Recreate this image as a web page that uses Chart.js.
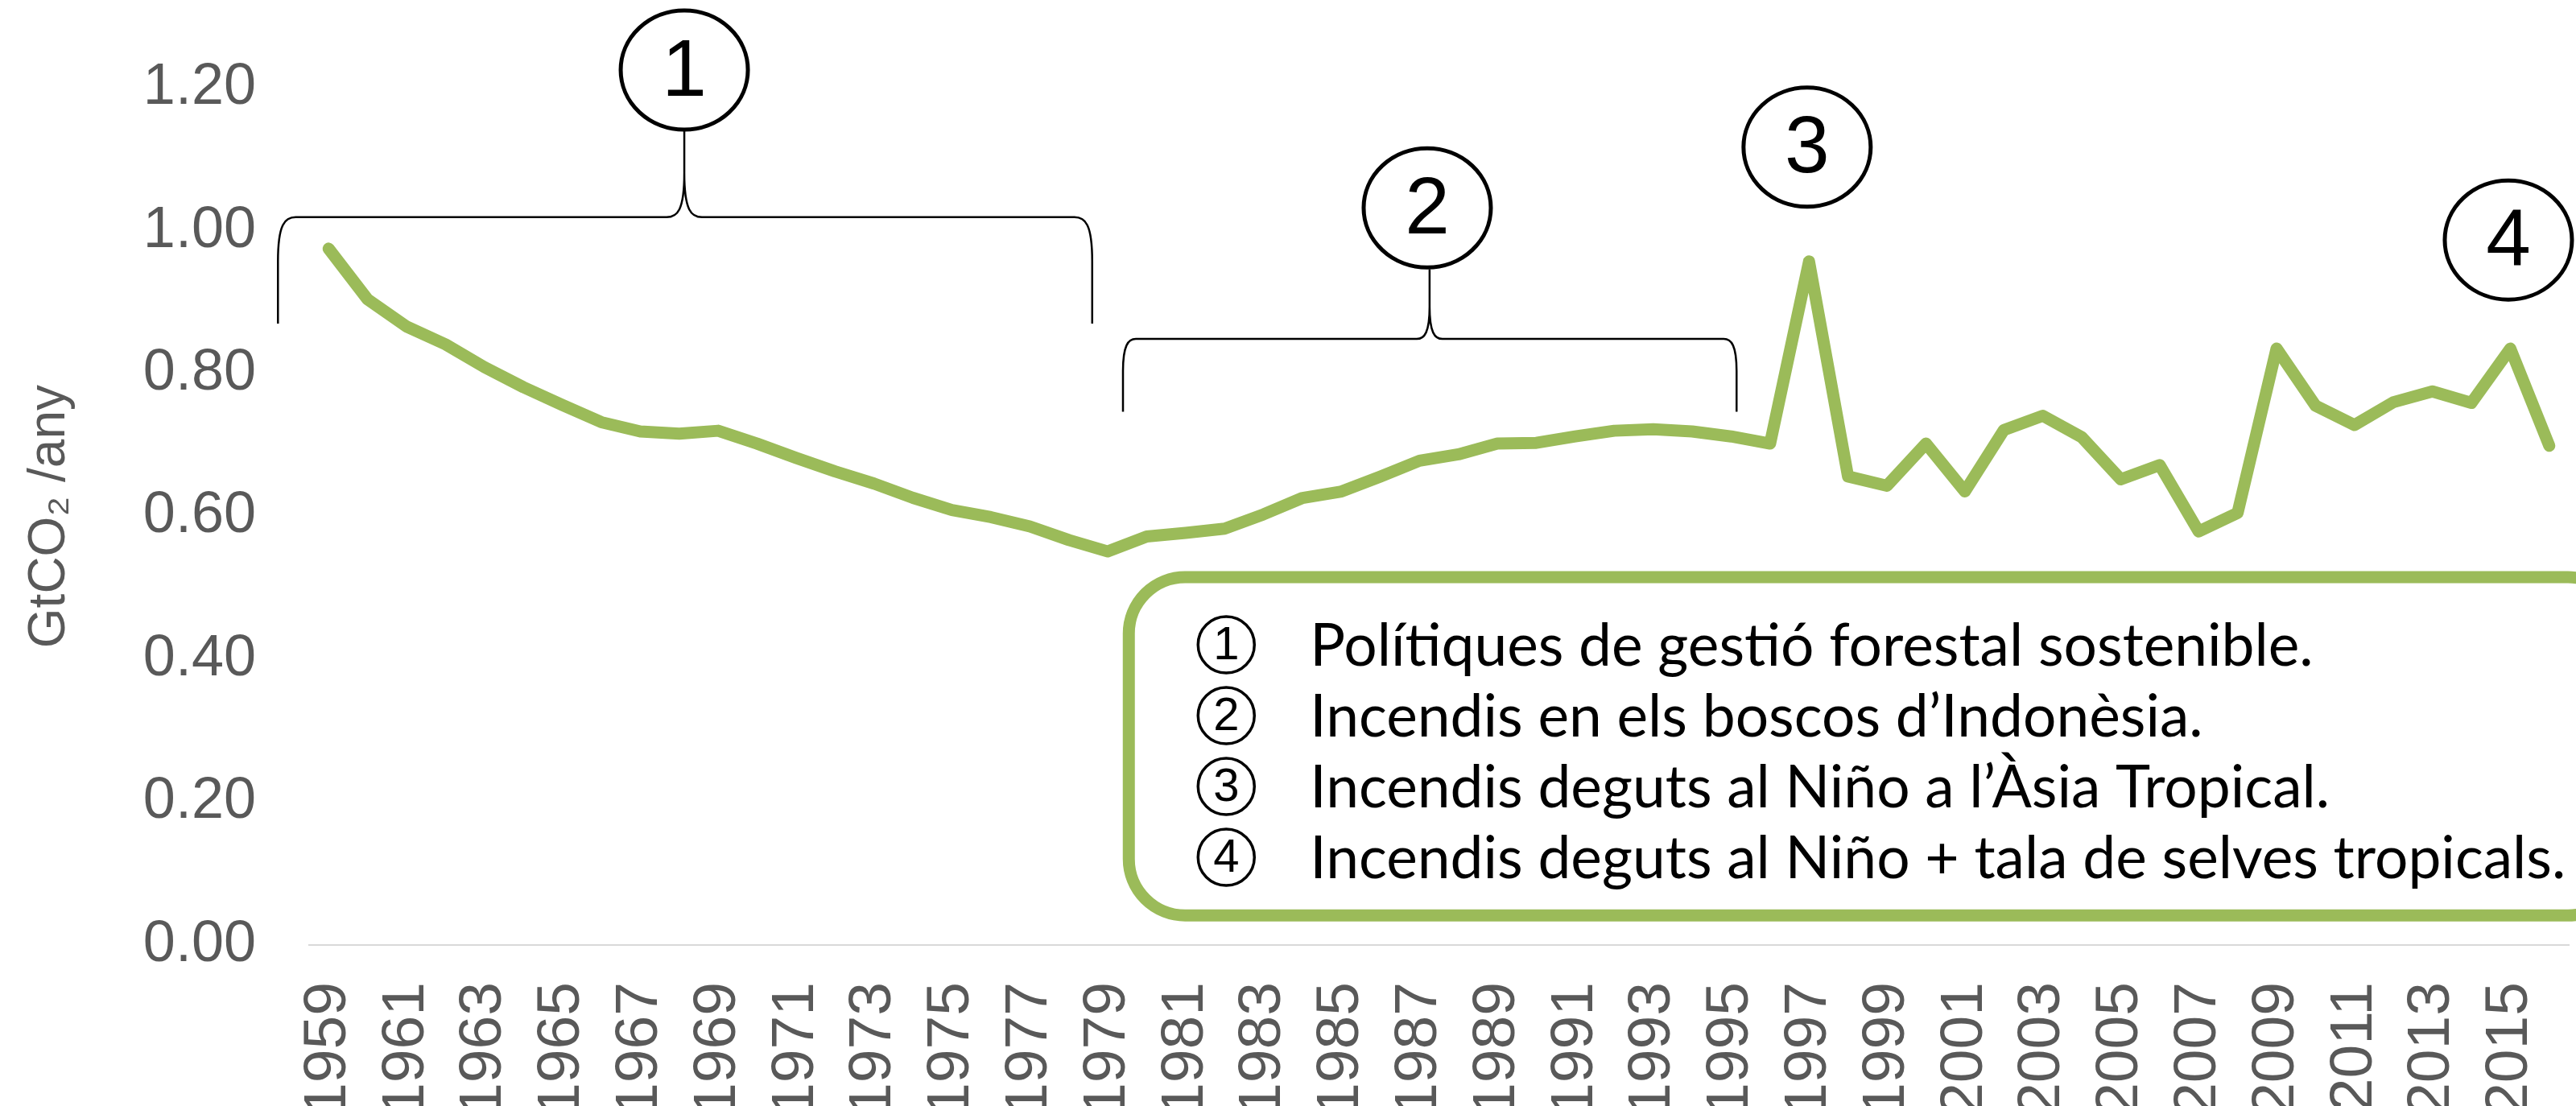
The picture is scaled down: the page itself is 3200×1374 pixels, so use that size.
<!DOCTYPE html>
<html>
<head>
<meta charset="utf-8">
<title>GtCO2 /any</title>
<script src="https://cdn.jsdelivr.net/npm/chart.js@4.4.1/dist/chart.umd.min.js"></script>
<style>
  html, body { margin: 0; padding: 0; background: #fff; overflow: hidden; }
  canvas { display: block; }
</style>
</head>
<body>
<canvas id="myChart" width="3200" height="1374"></canvas>
<script>
const years = [
    "1959", "1960", "1961", "1962", "1963", "1964", "1965", "1966", "1967", "1968",
    "1969", "1970", "1971", "1972", "1973", "1974", "1975", "1976", "1977", "1978",
    "1979", "1980", "1981", "1982", "1983", "1984", "1985", "1986", "1987", "1988",
    "1989", "1990", "1991", "1992", "1993", "1994", "1995", "1996", "1997", "1998",
    "1999", "2000", "2001", "2002", "2003", "2004", "2005", "2006", "2007", "2008",
    "2009", "2010", "2011", "2012", "2013", "2014", "2015", "2016"
];
const emissions = [
    0.975, 0.904, 0.866, 0.841, 0.809, 0.781, 0.756, 0.732, 0.719, 0.716,
    0.720, 0.702, 0.682, 0.663, 0.646, 0.626, 0.609, 0.599, 0.586, 0.567,
    0.551, 0.572, 0.577, 0.583, 0.603, 0.626, 0.635, 0.656, 0.678, 0.687,
    0.702, 0.703, 0.712, 0.720, 0.722, 0.719, 0.712, 0.702, 0.957, 0.656,
    0.643, 0.702, 0.635, 0.721, 0.741, 0.711, 0.652, 0.672, 0.579, 0.605,
    0.835, 0.755, 0.728, 0.760, 0.775, 0.759, 0.835, 0.699
];
const yTicks = [0, 0.2, 0.4, 0.6, 0.8, 1.0, 1.2];
const notes = [
    "Polítiques de gestió forestal sostenible.",
    "Incendis en els boscos d’Indonèsia.",
    "Incendis deguts al Niño a l’Àsia Tropical.",
    "Incendis deguts al Niño + tala de selves tropicals."
];

const green = "#9BBB59";
const grey = "#595959";

Chart.defaults.font.family = '"Liberation Sans", Arial, sans-serif';

// braces, numbered bubbles and the note box, placed through the scales
const annotate = {
    id: "annotate",
    afterDraw(chart) {
        const ctx = chart.ctx;
        const xs = chart.scales.x, ys = chart.scales.y;
        const px = yr => xs.getPixelForValue(yr - 1959);
        const py = v => ys.getPixelForValue(v);

        function brace(x0, x1, xm, top, end, tip, c) {
            ctx.beginPath();
            ctx.moveTo(x0, end);
            ctx.lineTo(x0, top + c * 2.5);
            ctx.bezierCurveTo(x0, top + 8, x0 + c * 0.4, top, x0 + c, top);
            ctx.lineTo(xm - c, top);
            ctx.bezierCurveTo(xm - c * 0.4, top, xm, top - 8, xm, top - c * 2.5);
            ctx.lineTo(xm, tip);
            ctx.moveTo(xm, top - c * 2.5);
            ctx.bezierCurveTo(xm, top - 8, xm + c * 0.4, top, xm + c, top);
            ctx.lineTo(x1 - c, top);
            ctx.bezierCurveTo(x1 - c * 0.4, top, x1, top + 8, x1, top + c * 2.5);
            ctx.lineTo(x1, end);
            ctx.lineWidth = 2.5;
            ctx.strokeStyle = "#000";
            ctx.stroke();
        }

        function bubble(cx, cy, label) {
            ctx.beginPath();
            ctx.ellipse(cx, cy, 79, 74, 0, 0, Math.PI * 2);
            ctx.fillStyle = "#fff";
            ctx.fill();
            ctx.lineWidth = 5;
            ctx.strokeStyle = "#000";
            ctx.stroke();
            ctx.fillStyle = "#000";
            ctx.font = '100px "Liberation Sans", Arial, sans-serif';
            ctx.textAlign = "center";
            ctx.textBaseline = "middle";
            ctx.fillText(label, cx, cy + 4);
        }

        ctx.save();
        brace(px(1957.7), px(1978.6), px(1968.13), py(1.019), py(0.870), py(1.143), 22);
        brace(px(1979.39), px(1995.14), px(1987.26), py(0.8485), py(0.7467), py(0.946), 16);
        bubble(px(1968.13), py(1.225), "1");
        bubble(px(1987.2), py(1.032), "2");
        bubble(px(1996.95), py(1.117), "3");
        bubble(px(2014.95), py(0.987), "4");

        // note box
        const bx = px(1979.54), by = py(0.515), bb = py(0.0414);
        ctx.beginPath();
        ctx.roundRect(bx, by, chart.width + 60 - bx, bb - by, 70);
        ctx.fillStyle = "#fff";
        ctx.fill();
        ctx.lineWidth = 15;
        ctx.strokeStyle = green;
        ctx.stroke();

        const fam = 'Lato, "Open Sans", sans-serif';
        ctx.font = "100px " + fam;
        const size = 100 * 1561 / ctx.measureText(notes[3]).width;
        const tx = bx + 225;
        notes.forEach((t, i) => {
            const cy = by + 86 + i * 88;
            ctx.beginPath();
            ctx.arc(bx + 121, cy - 2, 35, 0, Math.PI * 2);
            ctx.lineWidth = 3.5;
            ctx.strokeStyle = "#000";
            ctx.stroke();
            ctx.fillStyle = "#000";
            ctx.textAlign = "center";
            ctx.textBaseline = "middle";
            ctx.font = '58px "Liberation Sans", Arial, sans-serif';
            ctx.fillText(String(i + 1), bx + 121, cy);
            ctx.textAlign = "left";
            ctx.font = size.toFixed(1) + "px " + fam;
            ctx.fillText(t, tx, cy);
        });
        ctx.restore();
    }
};

new Chart("myChart", {
    type: "line",
    data: {
        labels: years,
        datasets: [{
            label: "GtCO₂ /any",
            data: emissions,
            borderColor: green,
            backgroundColor: green,
            borderWidth: 15,
            borderCapStyle: "round",
            borderJoinStyle: "round",
            pointRadius: 0,
            tension: 0
        }]
    },
    options: {
        responsive: false,
        animation: false,
        layout: { padding: { top: 100, right: 9, left: 0, bottom: 0 } },
        plugins: {
            legend: { display: false },
            tooltip: { enabled: false }
        },
        scales: {
            x: {
                offset: true,
                grid: { display: false, drawTicks: false },
                border: { display: true, color: "#D9D9D9", width: 2 },
                ticks: {
                    autoSkip: false,
                    minRotation: 90,
                    maxRotation: 90,
                    padding: 46,
                    color: grey,
                    font: { size: 75 },
                    callback: (v, i) => (i % 2 === 0 ? years[i] : "")
                },
                afterFit: s => {
                    s.height = 200;
                    s.paddingLeft = 0;
                    s.paddingRight = 0;
                }
            },
            y: {
                min: 0,
                max: 1.2,
                grid: { display: false, drawTicks: false },
                border: { display: false },
                afterBuildTicks: s => { s.ticks = yTicks.map(v => ({ value: v })); },
                ticks: {
                    padding: 66,
                    color: grey,
                    font: { size: 72 },
                    callback: v => v.toFixed(2)
                },
                title: {
                    display: true,
                    text: "GtCO₂ /any",
                    color: grey,
                    font: { size: 64 },
                    padding: { top: 24, bottom: 0 }
                },
                afterFit: s => { s.width = 384; }
            }
        }
    },
    plugins: [annotate]
});
</script>
</body>
</html>
